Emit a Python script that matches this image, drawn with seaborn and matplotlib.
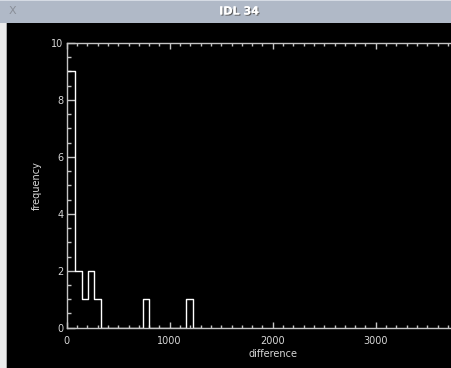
import numpy as np
import matplotlib
matplotlib.use("Agg")
import matplotlib.pyplot as plt
import matplotlib.patheffects as pe
from matplotlib.patches import Rectangle
from matplotlib.ticker import MultipleLocator
import seaborn as sns

# histogram: bin edges and counts per bin
bin_edges = [0, 81, 151, 210, 268, 333, 744, 802, 1158, 1229, 1300]
bin_counts = [9, 2, 1, 2, 1, 0, 1, 0, 1, 0]
x_ticks = [0, 1000, 2000, 3000]
y_ticks = [0, 2, 4, 6, 8, 10]
window_title = "IDL 34"

AXIS_COL = "#c4c4c4"
TEXT_COL = "#d8d8d8"

sns.set_theme(style="dark", rc={
    "axes.facecolor": "black",
    "figure.facecolor": "black",
    "axes.edgecolor": AXIS_COL,
    "axes.linewidth": 1.0,
    "xtick.color": AXIS_COL,
    "ytick.color": AXIS_COL,
    "text.color": TEXT_COL,
    "axes.labelcolor": TEXT_COL,
})
plt.rcParams["font.family"] = ["DejaVu Sans"]

W, H = 451, 368
fig = plt.figure(figsize=(W / 100, H / 100), dpi=100)

# plot area in pixels: x 0 at 66.7, 4000 at 478.7 (past the right edge); y 0 at 327.7, 10 at 43
left, right, top, bottom = 66.7, 478.7, 43.0, 327.7
ax = fig.add_axes([left / W, 1 - bottom / H, (right - left) / W, (bottom - top) / H])

centers = [(a + b) / 2 for a, b in zip(bin_edges[:-1], bin_edges[1:])]
sns.histplot(x=centers, weights=bin_counts, bins=bin_edges, element="step",
             fill=False, color="white", linewidth=1.0, ax=ax)

ax.set_xlim(0, 4000)
ax.set_ylim(0, 10)
ax.set_xticks(x_ticks)
ax.set_yticks(y_ticks)
ax.xaxis.set_minor_locator(MultipleLocator(100))
ax.yaxis.set_minor_locator(MultipleLocator(0.5))
ax.tick_params(axis="x", which="major", direction="in", length=4.3, width=1,
               top=True, bottom=True, pad=6, labelsize=7, labelcolor=TEXT_COL)
ax.tick_params(axis="x", which="minor", direction="in", length=2.2, width=1,
               top=True, bottom=True)
ax.tick_params(axis="y", which="major", direction="in", length=5.8, width=1,
               left=True, right=True, pad=2.5, labelsize=7, labelcolor=TEXT_COL)
ax.tick_params(axis="y", which="minor", direction="in", length=2.9, width=1,
               left=True, right=True)
ax.grid(False)
ax.set_xlabel("difference", fontsize=7, labelpad=2)
ax.set_ylabel("frequency", fontsize=7)
ax.yaxis.set_label_coords(-0.06, 0.5)

# window decoration: title bar and left frame strip
bar_h = 23 / H
fig.patches.append(Rectangle((0, 1 - bar_h), 1, bar_h, transform=fig.transFigure,
                             facecolor="#b0b9c7", edgecolor="none", zorder=5))
fig.patches.append(Rectangle((0, 1 - 1 / H), 1, 1 / H, transform=fig.transFigure,
                             facecolor="#d5dbe4", edgecolor="none", zorder=6))
fig.patches.append(Rectangle((0, 0), 6 / W, 1 - bar_h, transform=fig.transFigure,
                             facecolor="#ececec", edgecolor="none", zorder=5))
fig.patches.append(Rectangle((6 / W, 0), 1 / W, 1 - bar_h, transform=fig.transFigure,
                             facecolor="#a8a8a8", edgecolor="none", zorder=5))
fig.text(239 / W, 1 - 11.5 / H, window_title, ha="center", va="center",
         fontsize=8, fontweight="bold", color="white", zorder=7,
         path_effects=[pe.withSimplePatchShadow(offset=(0.8, -0.8), shadow_rgbFace="#555555",
                                                alpha=0.9), pe.Normal()])
fig.text(12 / W, 1 - 11.5 / H, "X", ha="center", va="center", fontsize=8,
         color="#8a8f98", zorder=7)

fig.savefig("out.png", dpi=100, facecolor="black")
